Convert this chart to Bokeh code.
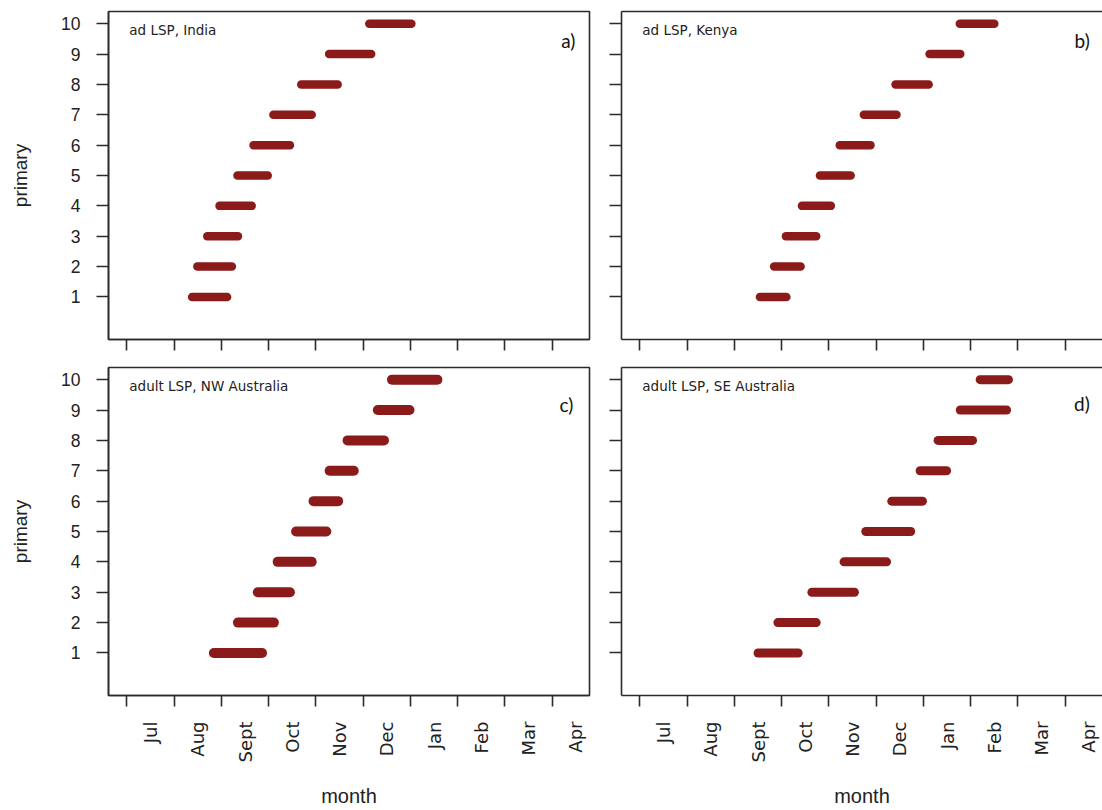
from math import pi

from bokeh.embed import file_html
from bokeh.layouts import gridplot
from bokeh.models import (ColumnDataSource, CustomJSTickFormatter, FixedTicker,
                          Label, LinearAxis, Range1d)
from bokeh.plotting import figure
from bokeh.resources import INLINE

# ---- data -----------------------------------------------------------------
# month axis: 0 = start of July, one unit per month
months = ["Jul", "Aug", "Sept", "Oct", "Nov", "Dec", "Jan", "Feb", "Mar", "Apr"]
primary = [1, 2, 3, 4, 5, 6, 7, 8, 9, 10]

india_start = [1.38, 1.49, 1.70, 1.96, 2.34, 2.68, 3.10, 3.69, 4.28, 5.13]
india_end = [2.12, 2.22, 2.35, 2.64, 2.98, 3.45, 3.91, 4.46, 5.17, 6.02]

kenya_start = [2.54, 2.84, 3.09, 3.43, 3.81, 4.23, 4.74, 5.41, 6.13, 6.77]
kenya_end = [3.10, 3.40, 3.73, 4.04, 4.46, 4.88, 5.43, 6.11, 6.78, 7.50]

nw_aus_start = [1.84, 2.35, 2.77, 3.19, 3.58, 3.95, 4.29, 4.67, 5.31, 5.61]
nw_aus_end = [2.86, 3.11, 3.45, 3.91, 4.22, 4.47, 4.80, 5.44, 5.98, 6.57]

se_aus_start = [2.50, 2.92, 3.64, 4.32, 4.78, 5.33, 5.93, 6.31, 6.78, 7.20]
se_aus_end = [3.35, 3.73, 4.54, 5.22, 5.73, 5.98, 6.49, 7.04, 7.76, 7.80]

# ---- styling --------------------------------------------------------------
BAR = "#8b1a1a"
INK = "#2b2b2b"
TEXT = "#222222"
X_RANGE = (-0.39, 9.79)
Y_RANGE = (-0.4, 10.4)
month_edges = list(range(len(months)))
month_mids = [i + 0.5 for i in range(len(months))]


def make_panel(starts, ends, caption, tag, tag_x, tag_y, bar_width,
               width, height, borders, y_labels, x_labels, full_box):
    left, right, top, bottom = borders
    p = figure(width=width, height=height, output_backend="svg",
               toolbar_location=None,
               x_range=Range1d(*X_RANGE), y_range=Range1d(*Y_RANGE),
               min_border_left=left, min_border_right=right,
               min_border_top=top, min_border_bottom=bottom)
    p.background_fill_color = "white"
    p.border_fill_color = "white"
    p.xgrid.visible = False
    p.ygrid.visible = False

    src = ColumnDataSource(dict(x0=starts, x1=ends, y=primary))
    p.segment(x0="x0", y0="y", x1="x1", y1="y", source=src,
              line_color=BAR, line_width=bar_width, line_cap="round")

    # x axis: tick marks at month boundaries, names centred in each month
    xa = p.below[0]
    xa.axis_line_color = INK
    xa.axis_line_width = 1.6
    xa.major_tick_out = 0
    xa.major_tick_in = 0
    xa.minor_tick_out = 11
    xa.minor_tick_in = 0
    xa.minor_tick_line_color = INK
    xa.minor_tick_line_width = 1.6
    xa.major_label_standoff = 0
    if x_labels:
        xa.ticker = FixedTicker(ticks=month_mids, minor_ticks=month_edges)
        xa.formatter = CustomJSTickFormatter(
            args=dict(names=months),
            code="const k = Math.floor(tick); return names[k] || '';")
        xa.major_label_orientation = pi / 2
        xa.major_label_standoff = 15
        xa.major_label_text_font = "DejaVu Sans"
        xa.major_label_text_font_size = "18px"
        xa.major_label_text_color = TEXT
        xa.axis_label = "month"
        xa.axis_label_text_font = "Liberation Sans"
        xa.axis_label_text_font_size = "20px"
        xa.axis_label_text_font_style = "normal"
        xa.axis_label_text_color = TEXT
        xa.axis_label_standoff = 20
    else:
        xa.ticker = FixedTicker(ticks=[], minor_ticks=month_edges)

    ya = p.left[0]
    ya.axis_line_color = INK
    ya.axis_line_width = 1.6
    ya.major_tick_out = 12
    ya.major_tick_in = 0
    ya.major_tick_line_color = INK
    ya.major_tick_line_width = 1.6
    ya.minor_tick_out = 12
    ya.minor_tick_in = 0
    ya.minor_tick_line_color = INK
    ya.minor_tick_line_width = 1.6
    ya.major_label_standoff = 0
    if y_labels:
        ya.ticker = FixedTicker(ticks=primary)
        ya.major_label_standoff = 16
        ya.major_label_text_font = "Liberation Sans"
        ya.major_label_text_font_size = "17.5px"
        ya.major_label_text_color = TEXT
        ya.axis_label = "primary"
        ya.axis_label_text_font = "Liberation Sans"
        ya.axis_label_text_font_size = "19px"
        ya.axis_label_text_font_style = "normal"
        ya.axis_label_text_color = TEXT
        ya.axis_label_standoff = 27
    else:
        ya.ticker = FixedTicker(ticks=[], minor_ticks=primary)

    if full_box:
        p.outline_line_color = INK
        p.outline_line_width = 1.6
    else:
        # open on the right: top edge drawn as a bare axis line
        p.outline_line_color = None
        top_axis = LinearAxis(ticker=FixedTicker(ticks=[]),
                              major_label_standoff=0,
                              major_tick_out=0, major_tick_in=0,
                              minor_tick_out=0, minor_tick_in=0,
                              axis_line_color=INK, axis_line_width=1.6)
        p.add_layout(top_axis, "above")

    p.add_layout(Label(x=0.05, y=9.78, text=caption,
                       text_font="DejaVu Sans", text_font_size="13.5px",
                       text_color=TEXT, text_align="left",
                       text_baseline="alphabetic"))
    p.add_layout(Label(x=tag_x, y=tag_y, text=tag,
                       text_font="Lato", text_font_size="19px",
                       text_color="#111111", text_align="right",
                       text_baseline="alphabetic"))
    return p


pa = make_panel(india_start, india_end, "ad LSP, India", "a)", 9.49, 9.45, 8.5,
                605, 353, (107, 16, 11, 14), True, False, True)
pb = make_panel(kenya_start, kenya_end, "ad LSP, Kenya", "b)", 9.52, 9.45, 8.5,
                497, 353, (16, 0, 11, 14), False, False, False)
pc = make_panel(nw_aus_start, nw_aus_end, "adult LSP, NW Australia", "c)", 9.45, 9.18, 10,
                605, 457, (108, 14, 14, 115), True, True, True)
pd = make_panel(se_aus_start, se_aus_end, "adult LSP, SE Australia", "d)", 9.52, 9.22, 9,
                497, 457, (16, 0, 14, 115), False, True, False)

grid = gridplot([[pa, pb], [pc, pd]], toolbar_location=None)

with open("out.html", "w") as fh:
    fh.write(file_html(grid, INLINE))
